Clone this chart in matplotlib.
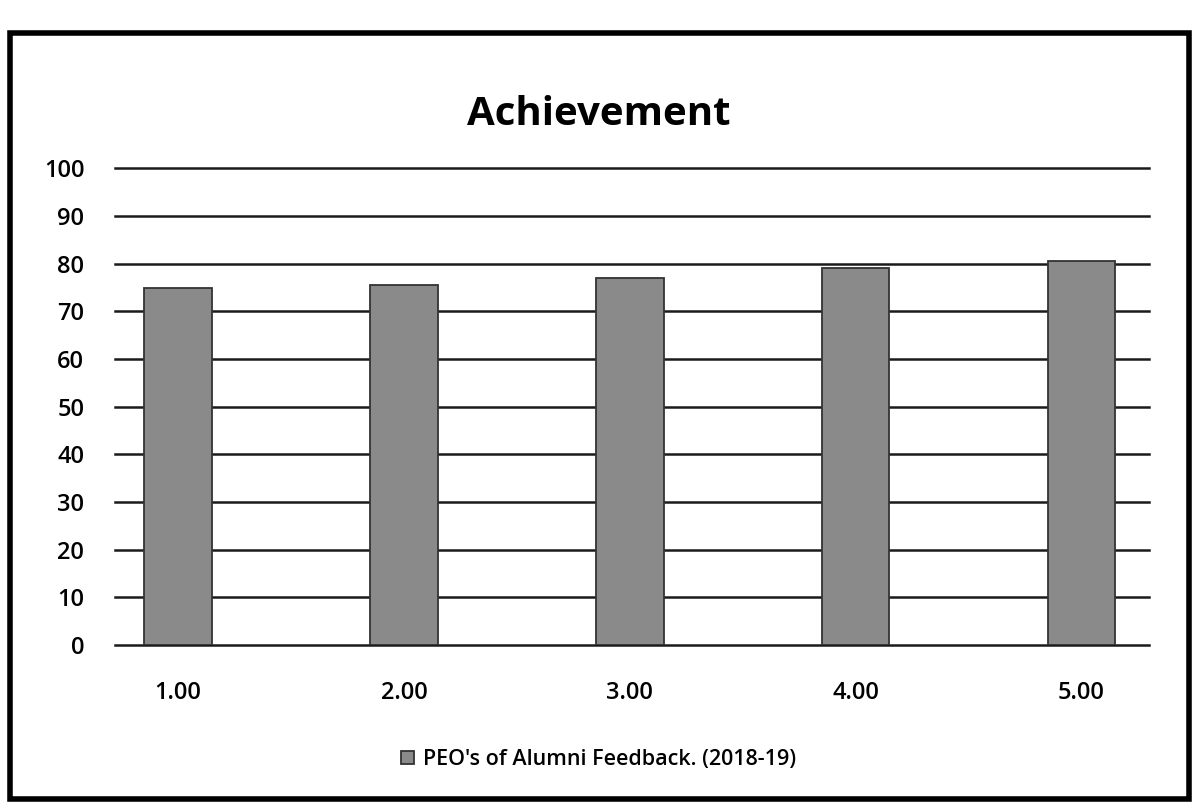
import matplotlib.pyplot as plt
import matplotlib.patches as mpatches
import numpy as np

plt.rcParams['font.family'] = ['Open Sans', 'DejaVu Sans']

# Data
categories = ['1.00', '2.00', '3.00', '4.00', '5.00']
values = [75, 75.5, 77, 79, 80.5]
series_name = "PEO's of Alumni Feedback. (2018-19)"
yticks = [0, 10, 20, 30, 40, 50, 60, 70, 80, 90, 100]

fig = plt.figure(figsize=(11.97, 8.02), dpi=100)
ax = fig.add_axes([0.096, 0.196, 0.864, 0.594])

x = np.arange(len(categories))
ax.bar(x, values, width=0.3, color='#8a8a8a', edgecolor='#333333',
       linewidth=1.3, label=series_name, zorder=3)

ax.set_ylim(0, 100)
ax.set_xlim(-0.28, len(categories) - 0.7)
ax.set_yticks(yticks)
ax.set_yticklabels([str(t) for t in yticks], fontsize=17, fontweight='semibold')
ax.set_xticks(x)
ax.set_xticklabels(categories, fontsize=17, fontweight='semibold')
ax.tick_params(axis='both', length=0)
ax.tick_params(axis='x', pad=26)
ax.tick_params(axis='y', pad=22)
ax.grid(axis='y', color='#1a1a1a', linewidth=1.8, zorder=0)
for gl in ax.get_ygridlines():
    gl.set_clip_on(False)
for s in ax.spines.values():
    s.set_visible(False)

fig.text(0.5, 0.857, 'Achievement', ha='center', va='center',
         fontsize=29, fontweight='bold')

leg = fig.legend(loc='center', bbox_to_anchor=(0.5, 0.053), frameon=False,
                 prop={'size': 15.5, 'weight': 'semibold'},
                 handlelength=0.6, handleheight=0.6, handletextpad=0.4)

# outer frame
fig.patches.append(mpatches.Rectangle((0.008, 0.004), 0.985, 0.955,
                                      transform=fig.transFigure, fill=False,
                                      edgecolor='black', linewidth=4))

plt.savefig('out.png', dpi=100)
plt.close()
